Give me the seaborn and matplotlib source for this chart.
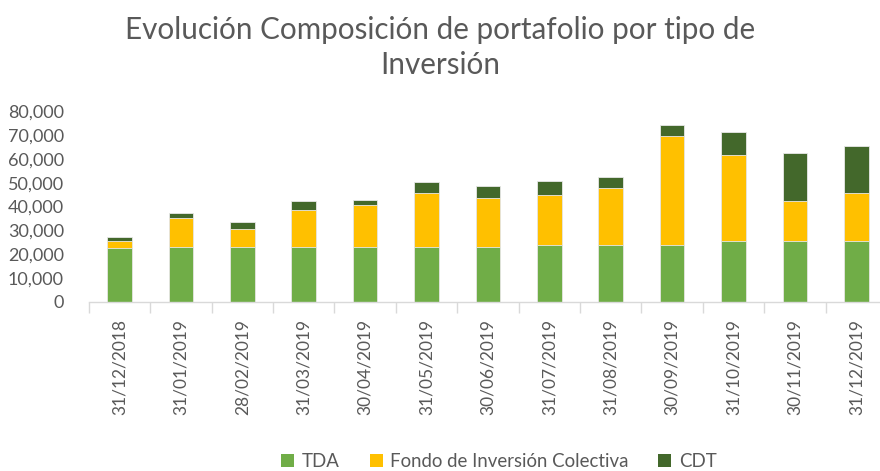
import numpy as np
import pandas as pd
import matplotlib
matplotlib.use("Agg")
import matplotlib.pyplot as plt
import seaborn as sns
from matplotlib.patches import Patch
from matplotlib.ticker import FuncFormatter, FixedLocator

fechas = ["31/12/2018", "31/01/2019", "28/02/2019", "31/03/2019", "30/04/2019",
          "31/05/2019", "30/06/2019", "31/07/2019", "31/08/2019", "30/09/2019",
          "31/10/2019", "30/11/2019", "31/12/2019"]
tda = [22600, 22900, 23000, 23000, 22900, 23000, 23000, 23900, 23900, 23900, 25600, 25600, 25600]
fic = [2800, 12400, 7600, 15700, 17600, 22800, 20700, 21100, 24000, 45700, 36000, 16700, 20200]
cdt = [2000, 2000, 3100, 3500, 2400, 4600, 5000, 5600, 4600, 4400, 9600, 20300, 19700]

series = ["TDA", "Fondo de Inversión Colectiva", "CDT"]
colors = {"TDA": "#70ad47", "Fondo de Inversión Colectiva": "#ffc000", "CDT": "#43682b"}

df = pd.DataFrame({"fecha": fechas, "TDA": tda, "FIC": fic, "CDT": cdt})
df["c_tda"] = df["TDA"]
df["c_fic"] = df["TDA"] + df["FIC"]
df["c_cdt"] = df["c_fic"] + df["CDT"]

sns.set_theme(style="white")
plt.rcParams["font.family"] = ["Lato", "DejaVu Sans"]

fig = plt.figure(figsize=(8.8, 4.71), dpi=100)
ax = fig.add_axes([0.101, 0.359, 0.907, 0.405])

gray = "#595959"
kw = dict(width=0.4, edgecolor="#e8e8e8", linewidth=0.6, ax=ax, order=fechas)
sns.barplot(data=df, x="fecha", y="c_cdt", color=colors["CDT"], saturation=1, **kw)
sns.barplot(data=df, x="fecha", y="c_fic", color=colors["Fondo de Inversión Colectiva"], saturation=1, **kw)
sns.barplot(data=df, x="fecha", y="c_tda", color=colors["TDA"], saturation=1, **kw)

ax.set_xlim(-0.5, len(fechas) - 0.5)
ax.set_ylim(0, 80000)
ax.set_yticks(np.arange(0, 80001, 10000))
ax.yaxis.set_major_formatter(FuncFormatter(lambda v, p: f"{int(v):,}"))
ax.tick_params(axis="y", length=0, labelsize=13, labelcolor=gray, pad=18)
ax.set_xlabel("")
ax.set_ylabel("")
ax.set_xticks(range(len(fechas)))
ax.set_xticklabels(fechas, rotation=90)
ax.tick_params(axis="x", which="major", length=0, labelsize=12.5, labelcolor=gray, pad=12)
ax.xaxis.set_minor_locator(FixedLocator(np.arange(-0.5, len(fechas), 1.0)))
ax.tick_params(axis="x", which="minor", length=8, width=1, color="#d9d9d9", bottom=True)

for s in ["top", "right", "left"]:
    ax.spines[s].set_visible(False)
ax.spines["bottom"].set_color("#d9d9d9")
ax.spines["bottom"].set_linewidth(1)
ax.grid(False)

fig.text(0.5, 0.899, "Evolución Composición de portafolio por tipo de\nInversión",
         ha="center", va="center", fontsize=21.3, color=gray, linespacing=1.32)

handles = [Patch(facecolor=colors[s], edgecolor="none") for s in series]
fig.legend(handles, series, loc="center", bbox_to_anchor=(0.567, 0.02), ncol=3,
           frameon=False, fontsize=13.4, labelcolor=gray, handlelength=0.7,
           handleheight=0.7, handletextpad=0.4, columnspacing=1.6)

fig.savefig("out.png", dpi=100)
